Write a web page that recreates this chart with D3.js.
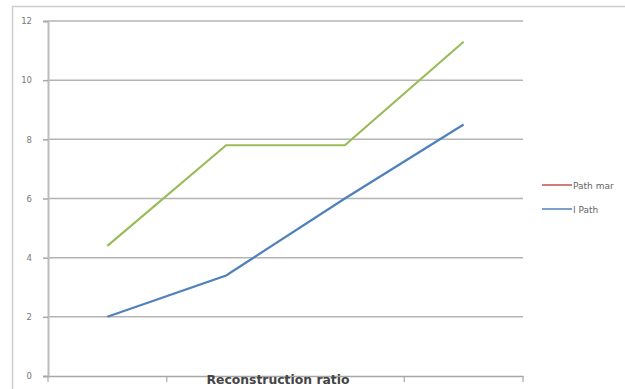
<!DOCTYPE html>
<html><head><meta charset="utf-8">
<script src="https://cdn.jsdelivr.net/npm/d3@7"></script>
<style>body{margin:0;background:#fff}svg{display:block}</style>
</head><body>
<svg id="c" width="625" height="389"></svg>
<script>
const categories = ["1", "2", "3", "4"];
const seriesGreen = [4.4, 7.8, 7.8, 11.3];
const seriesBlue = [2.0, 3.4, 6.0, 8.5];
const yTicks = [0, 2, 4, 6, 8, 10, 12];
const legendNames = ["Path mar", "I Path"];
const xTitle = "Reconstruction ratio";

const svg = d3.select("#c");
const m = {l: 48, r: 523, t: 21, b: 376};
const x = d3.scaleBand().domain(categories).range([m.l, m.r]);
const y = d3.scaleLinear().domain([0, 12]).range([m.b, m.t]);

// outer border
svg.append("path").attr("d", "M12.5,389 V6.5 H625").attr("fill", "none")
  .attr("stroke", "#cfcfcf").attr("stroke-width", 1.5);

// gridlines
svg.append("g").selectAll("line").data(yTicks.filter(d => d > 0)).join("line")
  .attr("x1", m.l).attr("x2", m.r).attr("y1", d => y(d)).attr("y2", d => y(d))
  .attr("stroke", "#b4b4b4").attr("stroke-width", 1.5);

// y axis
const ya = svg.append("g").attr("transform", `translate(${m.l},0)`)
  .call(d3.axisLeft(y).tickValues(yTicks).tickSize(5).tickPadding(11));
ya.select(".domain").attr("stroke", "#bcbcbc").attr("stroke-width", 2);
ya.selectAll(".tick line").attr("stroke", "#a8a8a8").attr("stroke-width", 1.5);
ya.selectAll("text").attr("fill", "#777").attr("font-family", "DejaVu Sans")
  .attr("font-size", 8.5);

// x axis
const xa = svg.append("g").attr("transform", `translate(0,${m.b})`)
  .call(d3.axisBottom(x).tickSize(0).tickFormat(""));
xa.select(".domain").attr("stroke", "#a8a8a8").attr("stroke-width", 1.5);
xa.selectAll(".tick").remove();
const bounds = categories.map(c => x(c)).concat([x(categories[categories.length - 1]) + x.bandwidth()]);
xa.selectAll(".xt").data(bounds).join("line").attr("class", "xt")
  .attr("x1", d => d).attr("x2", d => d).attr("y1", 0).attr("y2", 6)
  .attr("stroke", "#a8a8a8").attr("stroke-width", 1.2);

// lines
const line = d3.line().x((d, i) => x(categories[i]) + x.bandwidth() / 2).y(d => y(d));
svg.append("path").datum(seriesGreen).attr("d", line).attr("fill", "none")
  .attr("stroke", "#9BBB59").attr("stroke-width", 2.2);
svg.append("path").datum(seriesBlue).attr("d", line).attr("fill", "none")
  .attr("stroke", "#4F81BD").attr("stroke-width", 2.2);

// x title
svg.append("text").attr("x", 278).attr("y", 384).attr("text-anchor", "middle")
  .attr("font-family", "DejaVu Sans").attr("font-weight", "bold").attr("font-size", 11.5)
  .attr("fill", "#444").attr("textLength", 143).attr("lengthAdjust", "spacingAndGlyphs").text(xTitle);

// legend
const legColors = ["#C0504D", "#4F81BD"];
const lg = svg.append("g").selectAll("g").data(legendNames).join("g")
  .attr("transform", (d, i) => `translate(542,${185 + i * 24})`);
lg.append("line").attr("x1", 0).attr("x2", 30).attr("stroke", (d, i) => legColors[i]).attr("stroke-width", 1.5);
lg.append("text").attr("x", 31).attr("y", 3.5).attr("font-family", "DejaVu Sans")
  .attr("font-size", 9).attr("fill", "#666").text(d => d);
</script>
</body></html>
